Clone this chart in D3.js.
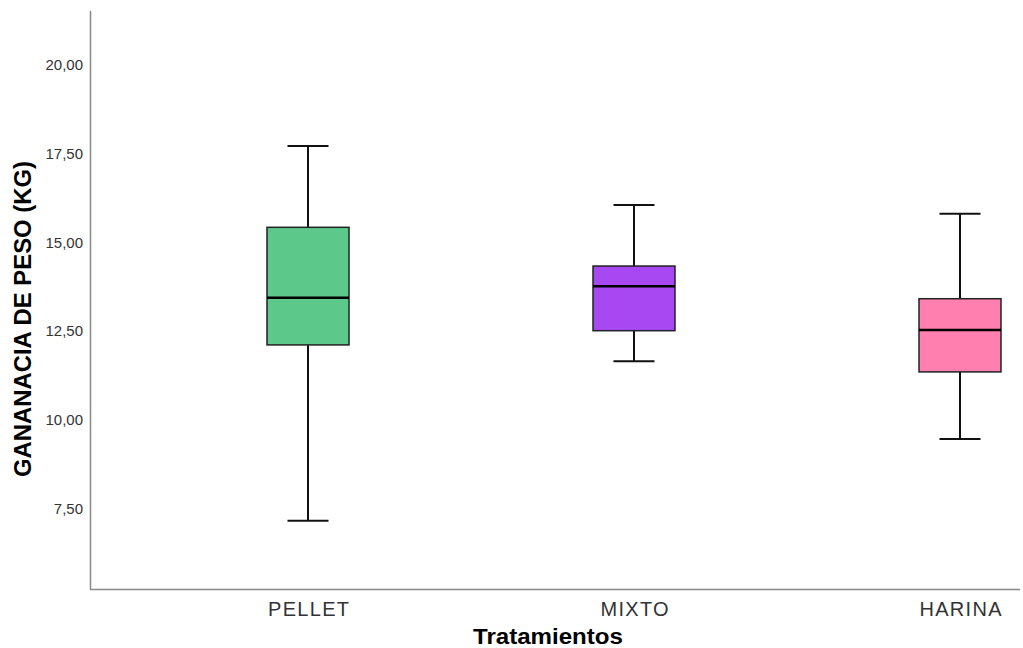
<!DOCTYPE html>
<html><head><meta charset="utf-8">
<script src="https://cdn.jsdelivr.net/npm/d3@7"></script>
<style>body{margin:0;background:#fff}svg{display:block}</style>
</head><body>
<script>
const categories = ["PELLET", "MIXTO", "HARINA"];
const whiskerLow = [7.16, 11.65, 9.46];
const q1 = [12.11, 12.51, 11.35];
const median = [13.44, 13.76, 12.53];
const q3 = [15.42, 14.33, 13.41];
const whiskerHigh = [17.71, 16.05, 15.80];
const colors = ["#5CC98B", "#A748F3", "#FF80AF"];
const yTicks = [7.5, 10, 12.5, 15, 17.5, 20];

const W = 1023, H = 648;
const FONT = "Arial, 'Liberation Sans', sans-serif";
const svg = d3.select("body").append("svg").attr("width", W).attr("height", H);

const y = d3.scaleLinear().domain([5.24, 21.48]).range([589, 12]);
const x = d3.scalePoint().domain(categories).range([308, 960]);
const boxW = 82, capW = 41;

// axes lines
svg.append("line").attr("x1", 90.5).attr("x2", 90.5).attr("y1", 11).attr("y2", 589.5)
  .attr("stroke", "#888").attr("stroke-width", 1.5);
svg.append("line").attr("x1", 90).attr("x2", 1020).attr("y1", 589.5).attr("y2", 589.5)
  .attr("stroke", "#888").attr("stroke-width", 1.5);

// y tick labels
const yAxis = d3.axisLeft(y).tickValues(yTicks).tickSize(0).tickPadding(0)
  .tickFormat(d => d3.format(".2f")(d).replace(".", ","));
const ga = svg.append("g").attr("transform", "translate(83,0)").call(yAxis);
ga.select(".domain").remove();
ga.selectAll("text").attr("font-family", FONT)
  .attr("font-size", 15).attr("fill", "#333");

// x tick labels
const xAxis = d3.axisBottom(x).tickSize(0).tickPadding(0);
const gx = svg.append("g").attr("transform", "translate(0,602)").call(xAxis);
gx.select(".domain").remove();
gx.selectAll("text").attr("font-family", FONT)
  .attr("font-size", 20).attr("fill", "#333").attr("letter-spacing", 1.3).attr("dx", 0.65);

// titles
svg.append("text").attr("x", 548).attr("y", 644).attr("text-anchor", "middle")
  .attr("font-family", FONT).attr("font-weight", "bold")
  .attr("font-size", 22).attr("fill", "#000")
  .attr("textLength", 150).attr("lengthAdjust", "spacingAndGlyphs").text("Tratamientos");
svg.append("text").attr("transform", "translate(31,319) rotate(-90)").attr("text-anchor", "middle")
  .attr("font-family", FONT).attr("font-weight", "bold")
  .attr("font-size", 24).attr("fill", "#000")
  .attr("textLength", 316).attr("lengthAdjust", "spacingAndGlyphs").text("GANANACIA DE PESO (KG)");

const data = categories.map((c, i) => ({c, lo: whiskerLow[i], q1: q1[i], med: median[i], q3: q3[i], hi: whiskerHigh[i], col: colors[i]}));
const g = svg.selectAll("g.box").data(data).join("g").attr("class", "box");

// whiskers
g.append("line").attr("x1", d => x(d.c)).attr("x2", d => x(d.c))
  .attr("y1", d => y(d.hi)).attr("y2", d => y(d.q3)).attr("stroke", "#111").attr("stroke-width", 2);
g.append("line").attr("x1", d => x(d.c)).attr("x2", d => x(d.c))
  .attr("y1", d => y(d.q1)).attr("y2", d => y(d.lo)).attr("stroke", "#111").attr("stroke-width", 2);
g.append("line").attr("x1", d => x(d.c) - capW / 2).attr("x2", d => x(d.c) + capW / 2)
  .attr("y1", d => y(d.hi)).attr("y2", d => y(d.hi)).attr("stroke", "#111").attr("stroke-width", 2);
g.append("line").attr("x1", d => x(d.c) - capW / 2).attr("x2", d => x(d.c) + capW / 2)
  .attr("y1", d => y(d.lo)).attr("y2", d => y(d.lo)).attr("stroke", "#111").attr("stroke-width", 2);
// box
g.append("rect").attr("x", d => x(d.c) - boxW / 2).attr("width", boxW)
  .attr("y", d => y(d.q3)).attr("height", d => y(d.q1) - y(d.q3))
  .attr("fill", d => d.col).attr("stroke", "#222").attr("stroke-width", 1.5);
// median
g.append("line").attr("x1", d => x(d.c) - boxW / 2).attr("x2", d => x(d.c) + boxW / 2)
  .attr("y1", d => y(d.med)).attr("y2", d => y(d.med)).attr("stroke", "#000").attr("stroke-width", 2.5);
</script>
</body></html>
